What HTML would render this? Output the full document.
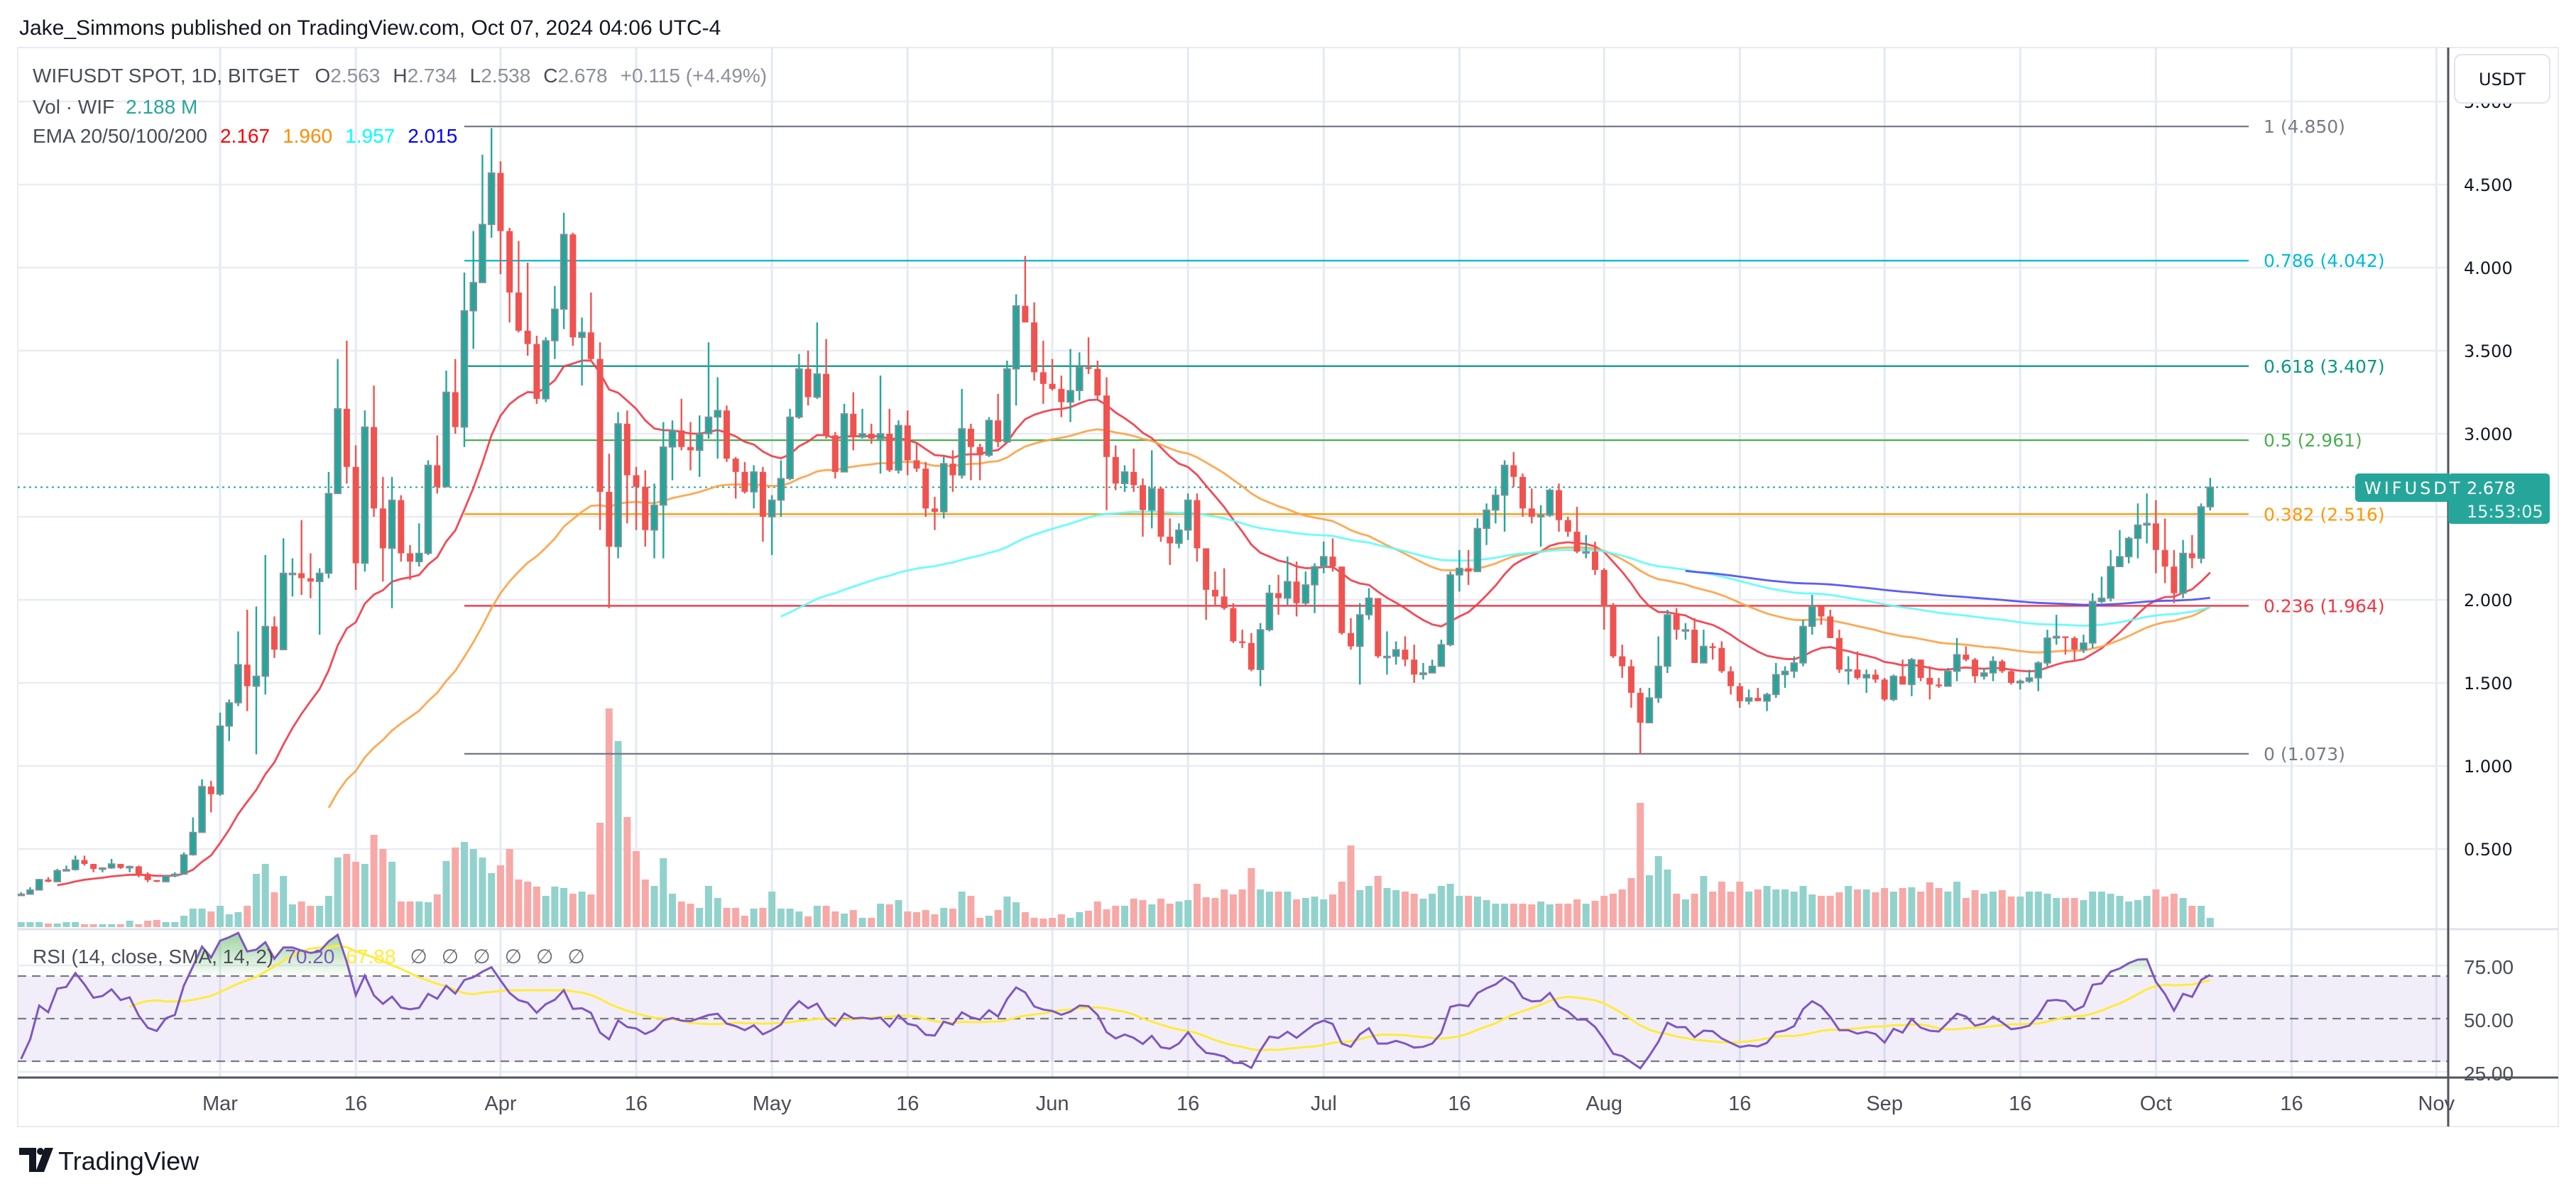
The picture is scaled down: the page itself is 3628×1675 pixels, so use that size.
<!DOCTYPE html>
<html><head><meta charset="utf-8"><title>WIFUSDT chart</title>
<style>
html,body{margin:0;padding:0;background:#fff;}
body{width:3628px;height:1675px;overflow:hidden;position:relative;font-family:"Liberation Sans",sans-serif;}
svg{position:absolute;left:0;top:0;}
</style></head>
<body>
<svg id="chart" width="3628" height="1675" viewBox="0 0 3628 1675" xmlns="http://www.w3.org/2000/svg">
  <defs>
    <clipPath id="mainClip"><rect x="25" y="67" width="3423" height="1241"/></clipPath>
    <clipPath id="rsiClip"><rect x="25" y="1310" width="3423" height="201"/></clipPath>
    <linearGradient id="obGrad" x1="0" y1="0" x2="0" y2="1">
      <stop offset="0" stop-color="#4caf50" stop-opacity="0.55"/>
      <stop offset="1" stop-color="#4caf50" stop-opacity="0.03"/>
    </linearGradient>
  </defs>
  <text x="27" y="49" font-size="30" fill="#131722" font-family="Liberation Sans, sans-serif">Jake_Simmons published on TradingView.com, Oct 07, 2024 04:06 UTC-4</text>
  <rect x="25" y="67" width="3578" height="1520" fill="#fff" stroke="#e8ebf0" stroke-width="2"/>
  <g id="grid"></g>
  <rect x="25" y="1375" width="3423" height="121" fill="#7e57c2" fill-opacity="0.1"/>
  <g id="volume" clip-path="url(#mainClip)"></g>
  <g id="fib"></g>
  <g id="emas" clip-path="url(#mainClip)"></g>
  <g id="candles" clip-path="url(#mainClip)"></g>
  <g id="rsi"></g>
  <g id="axes"></g>
  <line x1="25" y1="1309" x2="3603" y2="1309" stroke="#e0e3eb" stroke-width="3"/>
  <line x1="25" y1="1518" x2="3603" y2="1518" stroke="#50535e" stroke-width="3"/>
  <line x1="3448" y1="67" x2="3448" y2="1587" stroke="#50535e" stroke-width="3"/>
  <g font-family="Liberation Sans, sans-serif" font-size="28">
    <text x="46" y="116" fill="#4a4d57">WIFUSDT SPOT, 1D, BITGET<tspan dx="22" fill="#4a4d57">O</tspan><tspan fill="#8c8f99">2.563</tspan><tspan dx="18" fill="#4a4d57">H</tspan><tspan fill="#8c8f99">2.734</tspan><tspan dx="18" fill="#4a4d57">L</tspan><tspan fill="#8c8f99">2.538</tspan><tspan dx="18" fill="#4a4d57">C</tspan><tspan fill="#8c8f99">2.678</tspan><tspan dx="18" fill="#8c8f99">+0.115 (+4.49%)</tspan></text>
    <text x="46" y="160" fill="#4a4d57">Vol · WIF<tspan dx="16" fill="#26a69a">2.188 M</tspan></text>
    <text x="46" y="201" fill="#4a4d57">EMA 20/50/100/200<tspan dx="18" fill="#ff0000">2.167</tspan><tspan dx="18" fill="#ff8c00">1.960</tspan><tspan dx="18" fill="#00ffff">1.957</tspan><tspan dx="18" fill="#0000ff">2.015</tspan></text>
    <text x="46" y="1357" fill="#4a4d57">RSI (14, close, SMA, 14, 2)<tspan dx="16" fill="#7e57c2">70.20</tspan><tspan dx="16" fill="#ffeb3b">67.88</tspan><tspan dx="20" fill="#6a6d78">∅</tspan><tspan dx="20" fill="#6a6d78">∅</tspan><tspan dx="20" fill="#6a6d78">∅</tspan><tspan dx="20" fill="#6a6d78">∅</tspan><tspan dx="20" fill="#6a6d78">∅</tspan><tspan dx="20" fill="#6a6d78">∅</tspan></text>
  </g>
  <g>
    <rect x="3457" y="77" width="134" height="68" rx="10" fill="#fff" stroke="#e0e3eb" stroke-width="2"/>
    <text x="3524" y="120" text-anchor="middle" font-size="24" fill="#131722" font-family="DejaVu Sans, sans-serif">USDT</text>
  </g>
  <g font-family="DejaVu Sans, sans-serif" font-size="24" fill="#fff">
    <rect x="3317" y="667" width="135" height="40" rx="5" fill="#26a69a"/>
    <rect x="3448" y="667" width="143" height="71" rx="5" fill="#26a69a"/>
    <text x="3330" y="696" letter-spacing="4">WIFUSDT</text>
    <text x="3474" y="696">2.678</text>
    <text x="3474" y="729" fill="#e8f6f4">15:53:05</text>
  </g>
  <g>
    <path d="M27 1617 H51 V1651 H41 V1627 H27 Z" fill="#131722"/>
    <circle cx="57" cy="1622" r="5" fill="#131722"/>
    <path d="M63 1617 H75 L62 1651 H50 Z" fill="#131722"/>
    <text x="82" y="1648" font-size="36" fill="#131722" font-family="Liberation Sans, sans-serif">TradingView</text>
  </g>
</svg>
<script>
// ---- data ----
const preCloses = [0.30,0.31,0.33,0.32,0.30,0.29,0.30,0.28,0.27,0.26,0.27,0.25,0.24,0.23,0.22];
const closes = [0.228,0.253,0.316,0.303,0.37,0.376,0.433,0.41,0.38,0.386,0.41,0.386,0.395,0.35,0.313,0.303,0.338,0.348,0.465,0.60,
0.876,0.83,1.24,1.38,1.61,1.48,1.54,1.84,1.70,2.16,2.16,2.13,2.11,2.16,2.64,3.15,2.80,2.22,3.04,2.55,
2.31,2.60,2.28,2.23,2.28,2.81,2.68,3.25,3.04,3.74,3.91,4.26,4.57,4.22,3.85,3.62,3.54,3.21,3.56,3.75,
4.20,3.58,3.61,3.45,2.65,2.32,3.06,2.75,2.68,2.42,2.57,2.92,3.02,2.92,2.90,3.0,3.10,3.14,2.85,2.77,
2.65,2.77,2.50,2.60,2.73,3.10,3.39,3.22,3.36,2.99,2.77,3.12,2.98,3.0,2.97,3.0,2.78,3.05,2.84,2.79,
2.55,2.53,2.82,2.75,3.03,2.92,2.87,3.08,2.95,3.39,3.77,3.67,3.37,3.30,3.27,3.19,3.26,3.40,3.39,3.23,
2.86,2.70,2.77,2.69,2.54,2.67,2.38,2.34,2.42,2.60,2.31,2.06,2.02,1.95,1.75,1.74,1.58,1.82,2.04,2.01,
2.11,1.98,2.09,2.20,2.26,2.20,1.80,1.72,1.91,2.01,1.66,1.66,1.70,1.64,1.55,1.56,1.60,1.73,2.15,2.19,
2.17,2.43,2.54,2.63,2.81,2.74,2.55,2.50,2.51,2.66,2.48,2.41,2.29,2.29,2.18,1.97,1.66,1.60,1.44,1.26,
1.41,1.60,1.91,1.82,1.82,1.62,1.72,1.71,1.57,1.48,1.39,1.41,1.39,1.43,1.55,1.57,1.62,1.84,1.96,1.90,
1.77,1.58,1.58,1.53,1.55,1.52,1.40,1.54,1.49,1.64,1.53,1.49,1.48,1.57,1.67,1.64,1.54,1.56,1.63,1.57,
1.50,1.51,1.53,1.62,1.77,1.78,1.77,1.70,1.74,1.99,2.01,2.20,2.26,2.37,2.45,2.46,2.30,2.20,2.04,2.28,
2.25,2.56,2.678];
const highs = [0.24,0.27,0.32,0.33,0.38,0.40,0.46,0.46,0.41,0.39,0.44,0.41,0.40,0.40,0.36,0.31,0.34,0.36,0.48,0.69,
0.92,0.91,1.32,1.40,1.81,1.94,1.96,2.27,1.90,2.37,2.25,2.48,2.28,2.19,2.77,3.45,3.56,2.93,3.14,3.29,
2.74,2.74,2.63,2.33,2.46,2.84,2.99,3.38,3.45,3.97,4.22,4.68,4.84,4.64,4.24,4.16,4.03,3.59,3.58,3.89,
4.33,4.21,3.70,3.85,3.55,2.88,3.13,3.14,2.80,2.78,2.70,3.07,3.08,3.21,3.07,3.11,3.55,3.34,3.17,2.86,
2.83,2.81,2.80,2.63,2.84,3.15,3.48,3.50,3.67,3.57,3.01,3.18,3.25,3.15,3.06,3.35,3.15,3.08,3.14,2.95,
2.83,2.62,2.86,2.90,3.27,3.06,2.94,3.10,3.24,3.44,3.84,4.07,3.79,3.56,3.45,3.35,3.51,3.49,3.58,3.44,
3.34,2.93,2.81,2.91,2.73,2.90,2.68,2.49,2.46,2.64,2.64,2.31,2.17,2.19,1.98,1.82,1.80,1.86,2.09,2.15,
2.26,2.23,2.17,2.22,2.35,2.37,2.20,1.89,1.98,2.07,2.01,1.81,1.75,1.78,1.73,1.62,1.64,1.76,2.17,2.30,
2.30,2.49,2.58,2.67,2.84,2.89,2.76,2.67,2.57,2.67,2.70,2.50,2.56,2.39,2.35,2.19,1.98,1.73,1.64,1.47,
1.47,1.78,1.94,1.95,1.86,1.89,1.82,1.74,1.75,1.60,1.50,1.46,1.47,1.44,1.62,1.60,1.66,1.88,2.03,1.97,
1.94,1.82,1.66,1.69,1.58,1.58,1.53,1.55,1.64,1.65,1.64,1.60,1.53,1.59,1.77,1.72,1.65,1.59,1.66,1.64,
1.58,1.52,1.58,1.63,1.82,1.91,1.78,1.78,1.79,2.04,2.14,2.30,2.42,2.38,2.58,2.64,2.60,2.49,2.30,2.36,
2.39,2.58,2.734];
const lows = [0.22,0.23,0.25,0.30,0.30,0.37,0.37,0.40,0.36,0.36,0.38,0.38,0.36,0.33,0.30,0.30,0.30,0.33,0.35,0.46,
0.60,0.72,0.82,1.15,1.36,1.33,1.07,1.43,1.65,1.70,2.02,2.03,2.01,1.79,2.13,2.64,2.70,2.06,2.17,2.50,
2.11,1.95,2.23,2.12,2.20,2.27,2.64,2.68,3.0,2.92,3.51,4.18,4.18,3.96,3.67,3.61,3.47,3.18,3.19,3.45,
3.63,3.53,3.29,3.44,2.42,1.95,2.25,2.46,2.42,2.32,2.25,2.25,2.72,2.90,2.78,2.74,2.97,2.85,2.83,2.61,
2.64,2.55,2.35,2.27,2.50,2.72,3.09,3.17,3.21,2.97,2.73,2.77,2.90,2.97,2.94,2.76,2.77,2.76,2.75,2.77,
2.50,2.42,2.49,2.65,2.73,2.72,2.72,2.86,2.92,2.95,3.17,3.67,3.32,3.18,3.26,3.10,3.07,3.20,3.36,3.21,
2.54,2.66,2.65,2.65,2.38,2.43,2.35,2.21,2.31,2.36,2.23,1.88,1.97,1.94,1.74,1.71,1.57,1.48,1.81,1.91,
1.97,1.90,1.97,1.92,2.16,2.17,1.79,1.70,1.49,1.88,1.65,1.55,1.61,1.60,1.50,1.52,1.56,1.60,1.72,2.05,
2.09,2.17,2.33,2.46,2.41,2.68,2.50,2.46,2.32,2.50,2.41,2.38,2.28,2.25,2.15,1.82,1.65,1.53,1.35,1.07,
1.26,1.38,1.56,1.76,1.76,1.62,1.62,1.64,1.56,1.43,1.35,1.37,1.39,1.33,1.41,1.47,1.53,1.60,1.79,1.85,
1.77,1.56,1.49,1.52,1.44,1.50,1.39,1.39,1.49,1.42,1.51,1.40,1.47,1.48,1.51,1.63,1.50,1.52,1.51,1.56,
1.49,1.46,1.50,1.45,1.60,1.73,1.67,1.63,1.68,1.71,1.98,1.99,2.20,2.22,2.25,2.34,2.16,2.10,1.98,2.01,
2.19,2.22,2.538];
const volumes = [7,7,7,5,5,7,7,4,4,4,4,4,9,4,9,10,7,7,16,26,26,22,30,18,21,30,75,89,49,72,
32,36,30,30,44,98,103,92,89,130,110,92,36,36,36,35,46,93,112,120,110,98,76,87,110,67,64,57,44,57,
55,47,50,46,147,308,262,155,107,67,58,97,47,36,33,27,58,41,27,27,16,26,27,50,26,26,22,15,30,30,
22,19,24,13,13,33,32,38,22,21,24,18,27,26,50,44,13,16,24,43,35,21,13,12,13,18,13,21,23,36,
25,30,30,40,38,32,40,33,36,38,61,42,41,53,46,53,83,53,50,50,50,39,41,43,39,46,64,115,52,58,
72,55,52,50,47,40,47,58,61,44,44,43,38,33,33,33,33,32,36,32,33,33,39,33,37,44,47,53,69,175,
73,100,81,47,39,47,72,50,64,50,64,50,53,58,53,53,50,58,46,44,44,49,58,53,53,49,55,50,55,56,
50,63,55,50,64,41,52,47,50,52,43,43,50,50,47,41,41,41,38,50,50,47,44,36,38,44,53,43,47,41,
30,30,13];
const priceTicks = [0.5,1.0,1.5,2.0,2.5,3.0,3.5,4.0,4.5,5.0];
const priceTickLabels = ["0.500","1.000","1.500","2.000","2.500","3.000","3.500","4.000","4.500","5.000"];
const timeTickDays = [0,15,31,46,61,76,92,107,122,137,153,168,184,199,214,229,245];
const timeTickLabels = ["Mar","16","Apr","16","May","16","Jun","16","Jul","16","Aug","16","Sep","16","Oct","16","Nov"];
const fibRatios = ["1","0.786","0.618","0.5","0.382","0.236","0"];
const fibPrices = [4.850,4.042,3.407,2.961,2.516,1.964,1.073];
const fibColors = ["#787b86","#00bcd4","#089981","#4caf50","#ff9800","#f23645","#787b86"];
const rsiTicks = [75,50,25];
const rsiTickLabels = ["75.00","50.00","25.00"];
const lastPrice = 2.678;

// ---- scales ----
const NS = "http://www.w3.org/2000/svg";
const MAR1_INDEX = 22, DAY_W = 12.74, X_MAR1 = 310;
const xDay = d => X_MAR1 + DAY_W * d;
const xOf = i => xDay(i - MAR1_INDEX);
const yP = p => 611 - (p - 3) * 234;
const yR = v => 1435 - (v - 50) * 3.0;
const VOL_BASE = 1306, VOL_K = 1.0;
function mk(tag, attrs, parent) {
  const e = document.createElementNS(NS, tag);
  for (const k in attrs) e.setAttribute(k, attrs[k]);
  parent.appendChild(e);
  return e;
}
const gGrid = document.getElementById('grid');
const gVol = document.getElementById('volume');
const gFib = document.getElementById('fib');
const gEma = document.getElementById('emas');
const gC = document.getElementById('candles');
const gR = document.getElementById('rsi');
const gAx = document.getElementById('axes');

timeTickDays.forEach((d, k) => {
  const x = xDay(d);
  if (x < 3448) {
    const l = mk('line', {x1: x, y1: 67, x2: x, y2: 1518, stroke: '#e3eaf1', 'stroke-width': 3}, gGrid);
    
    
  }
  const t = mk('text', {x: x, y: 1564, 'text-anchor': 'middle', 'font-size': 29, fill: '#4a4d57', 'font-family': 'Liberation Sans, sans-serif'}, gAx);
  t.textContent = timeTickLabels[k];
  
  
});
priceTicks.forEach((p, k) => {
  const y = yP(p);
  const l = mk('line', {x1: 25, y1: y, x2: 3448, y2: y, stroke: '#e8edf2', 'stroke-width': 2.5}, gGrid);
  
  
  const t = mk('text', {x: 3470, y: y + 9, 'font-size': 24, fill: '#131722', 'font-family': 'DejaVu Sans, sans-serif'}, gAx);
  t.textContent = priceTickLabels[k];
  
  
});
rsiTicks.forEach((v, k) => {
  const y = yR(v);
  if (v !== 50) {
    const l = mk('line', {x1: 25, y1: y, x2: 3448, y2: y, stroke: '#e8edf2', 'stroke-width': 2.5}, gGrid);
    
    
  }
  const t = mk('text', {x: 3470, y: y + 12, 'font-size': 28, fill: '#4a4d57', 'font-family': 'Liberation Sans, sans-serif'}, gAx);
  t.textContent = rsiTickLabels[k];
  
  
});

volumes.forEach((v, i) => {
  const open = i === 0 ? preCloses[preCloses.length - 1] : closes[i - 1];
  const up = closes[i] >= open;
  const h = v * VOL_K;
  const r = mk('rect', {x: xOf(i) - 5, y: VOL_BASE - h, width: 10, height: h, fill: up ? '#92d2cc' : '#f7a9a7'}, gVol);
  
  
});

const fibX1 = xOf(49), fibX2 = 3167;
fibPrices.forEach((p, k) => {
  const y = yP(p);
  const l = mk('line', {x1: fibX1, y1: y, x2: fibX2, y2: y, stroke: fibColors[k], 'stroke-width': 2.3}, gFib);
  
  
  const t = mk('text', {x: 3188, y: y + 9, 'font-size': 25, fill: fibColors[k], 'font-family': 'DejaVu Sans, sans-serif'}, gFib);
  t.textContent = fibRatios[k] + ' (' + p.toFixed(3) + ')';
  
  
});

const lp = mk('line', {x1: 25, y1: yP(lastPrice), x2: 3317, y2: yP(lastPrice), stroke: '#26a69a', 'stroke-width': 2, 'stroke-dasharray': '3 5'}, gFib);



const full = preCloses.concat(closes);
const P = preCloses.length;
function ema(len) {
  const out = new Array(full.length).fill(null);
  if (full.length < len) return out;
  let s = 0; for (let k = 0; k < len; k++) s += full[k];
  let e = s / len; out[len - 1] = e;
  const a = 2 / (len + 1);
  for (let k = len; k < full.length; k++) { e = a * full[k] + (1 - a) * e; out[k] = e; }
  return out;
}
[[20, '#f23645'], [50, '#ffa040'], [100, '#5cfcfc'], [200, '#4b4bf5']].forEach(([len, col]) => {
  const e = ema(len);
  let d = '';
  for (let k = 0; k < full.length; k++) {
    if (e[k] === null || k < P) continue;
    d += (d ? 'L' : 'M') + xOf(k - P).toFixed(1) + ' ' + yP(e[k]).toFixed(1);
  }
  const path = mk('path', {d: d, fill: 'none', stroke: col, 'stroke-width': 2.8, 'stroke-opacity': 0.9}, gEma);
  
  
});

closes.forEach((c, i) => {
  const o = i === 0 ? preCloses[preCloses.length - 1] : closes[i - 1];
  const up = c >= o;
  const col = up ? '#26a69a' : '#ef5350';
  const x = xOf(i);
  const w = mk('line', {x1: x, y1: yP(highs[i]), x2: x, y2: yP(lows[i]), stroke: col, 'stroke-width': 2.4}, gC);
  
  
  const yt = yP(Math.max(o, c)), yb = yP(Math.min(o, c));
  const b = mk('rect', {x: x - 4.5, y: yt, width: 9, height: Math.max(2, yb - yt), fill: col}, gC);
  if (up) { b.setAttribute('stroke', '#8a8e99'); b.setAttribute('stroke-width', '1.6'); }
  
  
});

const rsi = new Array(full.length).fill(null);
{
  let ag = 0, al = 0;
  for (let k = 1; k <= 14; k++) { const ch = full[k] - full[k - 1]; ag += Math.max(ch, 0); al += Math.max(-ch, 0); }
  ag /= 14; al /= 14;
  rsi[14] = al === 0 ? 100 : 100 - 100 / (1 + ag / al);
  for (let k = 15; k < full.length; k++) {
    const ch = full[k] - full[k - 1];
    ag = (ag * 13 + Math.max(ch, 0)) / 14; al = (al * 13 + Math.max(-ch, 0)) / 14;
    rsi[k] = al === 0 ? 100 : 100 - 100 / (1 + ag / al);
  }
}
const rsiSma = new Array(full.length).fill(null);
for (let k = 27; k < full.length; k++) { let s = 0; for (let j = k - 13; j <= k; j++) s += rsi[j]; rsiSma[k] = s / 14; }
[[70, 'rsi-upper-band'], [50, 'rsi-middle-band'], [30, 'rsi-lower-band']].forEach(([v, nm]) => {
  const l = mk('line', {x1: 25, y1: yR(v), x2: 3448, y2: yR(v), stroke: '#787b86', 'stroke-width': 2.3, 'stroke-dasharray': '12 8'}, gR);
  
  
});
let rd = '', fillPts = [], sd = '';
for (let k = P; k < full.length; k++) {
  if (rsi[k] === null) continue;
  const x = xOf(k - P), y = yR(rsi[k]);
  rd += (rd ? 'L' : 'M') + x.toFixed(1) + ' ' + y.toFixed(1);
  fillPts.push(x.toFixed(1) + ',' + Math.min(y, yR(70)).toFixed(1));
  if (rsiSma[k] !== null) sd += (sd ? 'L' : 'M') + x.toFixed(1) + ' ' + yR(rsiSma[k]).toFixed(1);
}
const first = fillPts[0].split(',')[0], last = fillPts[fillPts.length - 1].split(',')[0];
const ob = mk('polygon', {points: first + ',' + yR(70) + ' ' + fillPts.join(' ') + ' ' + last + ',' + yR(70), fill: 'url(#obGrad)', 'clip-path': 'url(#rsiClip)'}, gR);


const smaPath = mk('path', {d: sd, fill: 'none', stroke: '#ffeb3b', 'stroke-width': 3, 'clip-path': 'url(#rsiClip)'}, gR);


const rsiPath = mk('path', {d: rd, fill: 'none', stroke: '#7e57c2', 'stroke-width': 3, 'clip-path': 'url(#rsiClip)'}, gR);


</script>
</body></html>
